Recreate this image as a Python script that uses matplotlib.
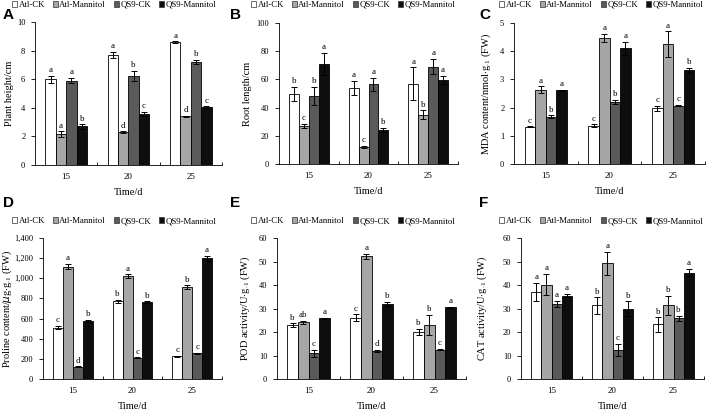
import matplotlib
matplotlib.use("Agg")
import matplotlib.pyplot as plt
from matplotlib.patches import Patch
from matplotlib.ticker import FuncFormatter, FixedLocator
import numpy as np

plt.rcParams['font.family'] = ['Liberation Serif', 'DejaVu Serif']
plt.rcParams['mathtext.fontset'] = 'custom'
plt.rcParams['mathtext.rm'] = 'Liberation Serif'

days = ['15', '20', '25']
series = ['Atl-CK', 'Atl-Mannitol', 'QS9-CK', 'QS9-Mannitol']
colors = ['#ffffff', '#a6a6a6', '#5a5a5a', '#0e0e0e']

# A: plant height
A_vals = [[6.0, 7.7, 8.6], [2.15, 2.3, 3.4], [5.9, 6.25, 7.2], [2.7, 3.55, 4.05]]
A_err = [[0.25, 0.2, 0.05], [0.2, 0.05, 0.05], [0.2, 0.35, 0.15], [0.15, 0.15, 0.05]]
A_let = [['a', 'a', 'a'], ['a', 'd', 'd'], ['a', 'b', 'b'], ['b', 'c', 'c']]

# B: root length
B_vals = [[49.5, 54, 57], [27, 12, 35], [48, 56.5, 69], [71, 24, 59.5]]
B_err = [[5, 5, 11.5], [1.5, 1, 3], [6.5, 4.5, 5.5], [8, 1.5, 3]]
B_let = [['b', 'a', 'a'], ['c', 'c', 'b'], ['b', 'a', 'a'], ['a', 'b', 'a']]

# C: MDA
C_vals = [[1.32, 1.36, 1.97], [2.63, 4.47, 4.25], [1.67, 2.2, 2.07], [2.62, 4.1, 3.32]]
C_err = [[0.02, 0.05, 0.1], [0.12, 0.15, 0.45], [0.05, 0.08, 0.03], [0.02, 0.22, 0.1]]
C_let = [['c', 'c', 'c'], ['a', 'a', 'a'], ['b', 'b', 'c'], ['a', 'a', 'b']]

# D: proline
D_vals = [[510, 770, 225], [1115, 1020, 910], [120, 210, 255], [575, 760, 1200]]
D_err = [[15, 15, 5], [25, 20, 20], [5, 5, 5], [10, 10, 25]]
D_let = [['c', 'b', 'c'], ['a', 'a', 'b'], ['d', 'c', 'c'], ['b', 'b', 'a']]

# E: POD
E_vals = [[23, 26, 20], [24.2, 52.2, 23], [11, 11.8, 12.5], [25.8, 32, 30.5]]
E_err = [[0.7, 1.5, 1.3], [0.6, 1.2, 4.3], [1.5, 0.5, 0.3], [0.3, 0.8, 0.3]]
E_let = [['b', 'c', 'b'], ['ab', 'a', 'b'], ['c', 'd', 'c'], ['a', 'b', 'a']]

# F: CAT
F_vals = [[37, 31.3, 23.2], [40.2, 49.2, 31.3], [32, 12.5, 25.8], [35.5, 30, 45.3]]
F_err = [[4, 3.5, 3], [4.5, 5, 4], [1.2, 2.5, 1.2], [0.8, 3, 1.5]]
F_let = [['a', 'b', 'b'], ['a', 'a', 'b'], ['a', 'c', 'b'], ['a', 'b', 'a']]

W, H = 708, 411
fig = plt.figure(figsize=(W / 100, H / 100), dpi=100)

def px_axes(l, r, t, b):
    return fig.add_axes([l / W, 1 - b / H, (r - l) / W, (b - t) / H])

panels = [
    ('A', A_vals, A_err, A_let, 10, 2, 'Plant height/cm', (35, 222, 22, 165), (12, 5), (3, 15), 10, False),
    ('B', B_vals, B_err, B_let, 100, 20, 'Root length/cm', (279, 458, 23, 164), (251, 5), (230, 15), 248, False),
    ('C', C_vals, C_err, C_let, 5, 1, r'MDA content/nmol$\cdot$g$_{\cdot1}$ (FW)', (514, 705, 23, 164), (499, 5), (479, 15), 489, False),
    ('D', D_vals, D_err, D_let, 1400, 200, r'Proline content/$\mu$g$\cdot$g$_{\cdot1}$ (FW)', (43, 222, 238, 379), (12, 221), (3, 203), 10, True),
    ('E', E_vals, E_err, E_let, 60, 10, r'POD activity/U$\cdot$g$_{\cdot1}$ (FW)', (277, 466, 238, 379), (251, 221), (230, 203), 248, False),
    ('F', F_vals, F_err, F_let, 60, 10, r'CAT activity/U$\cdot$g$_{\cdot1}$ (FW)', (521, 704, 238, 379), (499, 221), (479, 203), 485, False),
]

bw = 0.167
x = np.arange(len(days))
for letter, vals, errs, lets, ymax, step, ylabel, box, legpos, letpos, ylx, comma in panels:
    ax = px_axes(*box)
    for i in range(4):
        xs = x + (i - 1.5) * bw
        ax.bar(xs, vals[i], width=bw, color=colors[i], edgecolor='black', linewidth=0.6, zorder=2)
        ax.errorbar(xs, vals[i], yerr=errs[i], fmt='none', ecolor='black', elinewidth=0.7,
                    capsize=2, capthick=0.7, zorder=3)
        for xi, v, e, t in zip(xs, vals[i], errs[i], lets[i]):
            ax.text(xi, v + e + ymax * 0.012, t, ha='center', va='bottom', fontsize=6.5)
    ax.set_xlim(-0.5, 2.5)
    ax.set_ylim(0, ymax)
    ax.set_yticks(np.arange(0, ymax + step / 2, step))
    if comma:
        ax.yaxis.set_major_formatter(FuncFormatter(lambda v, p: f'{int(v):,}'))
    ax.set_xticks(x)
    ax.set_xticklabels(days)
    ax.xaxis.set_minor_locator(FixedLocator([0.5, 1.5, 2.5]))
    ax.tick_params(axis='x', which='major', length=0, labelsize=6.5, pad=6)
    ax.tick_params(axis='x', which='minor', length=2.5, width=0.6, direction='in')
    ax.tick_params(axis='y', length=3, width=0.6, labelsize=6, direction='out', pad=4)
    for s in ['top', 'right']:
        ax.spines[s].set_visible(False)
    for s in ['left', 'bottom']:
        ax.spines[s].set_linewidth(0.6)
    ax.set_xlabel('Time/d', fontsize=7.5, labelpad=5)
    ax.set_ylabel(ylabel, fontsize=7.5)
    l, r = box[0], box[1]
    ax.yaxis.set_label_coords((ylx + 4 - l) / (r - l), 0.5)
    handles = [Patch(facecolor=c, edgecolor='#333333', linewidth=0.5) for c in colors]
    fig.legend(handles, series, loc='center left', bbox_to_anchor=(legpos[0] / W, 1 - legpos[1] / H),
               ncol=4, frameon=False, fontsize=6.3, handlelength=0.55, handleheight=0.55,
               handletextpad=0.2, columnspacing=0.9, borderpad=0, borderaxespad=0)
    fig.text(letpos[0] / W, 1 - letpos[1] / H, letter, fontsize=11, fontweight='bold',
             family='Liberation Sans', ha='left', va='center')

fig.savefig('out.png', dpi=100)
